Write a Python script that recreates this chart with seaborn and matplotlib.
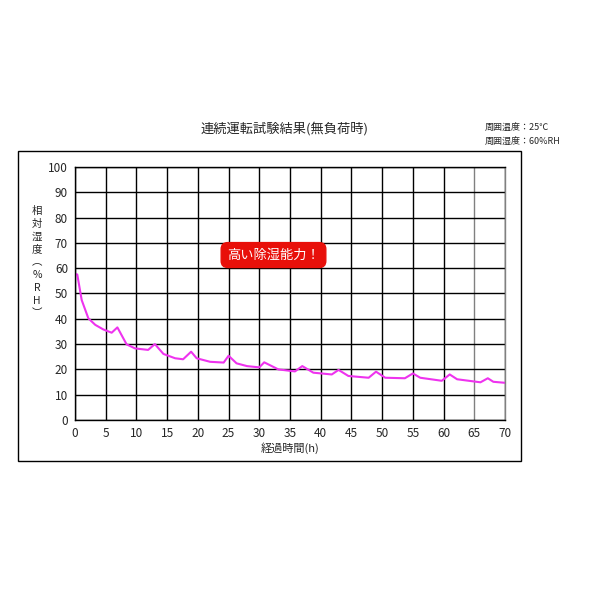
import pandas as pd
import matplotlib
matplotlib.use("Agg")
import matplotlib.pyplot as plt
from matplotlib.patches import Rectangle
import seaborn as sns

# Data (hours, %RH)
hours = [0.0, 0.37, 1.09, 2.17, 3.3, 4.6, 5.97, 6.9, 8.4, 9.77, 11.9, 13.0,
         14.4, 16.3, 17.6, 18.9, 19.8, 22.0, 24.2, 25.0, 26.3, 28.0, 30.0,
         30.8, 33.1, 35.8, 37.0, 38.8, 41.8, 42.9, 44.5, 47.8, 49.0, 50.5,
         53.7, 55.0, 56.2, 59.7, 61.0, 62.2, 66.0, 67.2, 68.1, 70.0]
humidity = [57.7, 57.5, 47.4, 40.2, 37.6, 35.8, 34.5, 36.6, 29.9, 28.3, 27.7,
            30.0, 26.1, 24.4, 24.0, 27.0, 24.4, 23.0, 22.7, 25.4, 22.4, 21.3,
            20.8, 22.8, 20.0, 19.2, 21.3, 18.7, 18.0, 19.8, 17.4, 16.7, 19.1,
            16.7, 16.5, 18.4, 16.7, 15.5, 18.0, 16.1, 14.9, 16.5, 15.1, 14.7]

x_ticks = list(range(0, 71, 5))
y_ticks = list(range(0, 101, 10))

df = pd.DataFrame({"hours": hours, "humidity": humidity})

sns.set_style("white")
plt.rcParams["font.family"] = ["Noto Sans CJK JP", "DejaVu Sans"]

fig = plt.figure(figsize=(6, 6), dpi=100)
ax = fig.add_axes([0.125, 0.3, 0.7167, 0.4217])

# outer frame around the chart
fig.patches.append(Rectangle((0.03, 0.2317), 0.838, 0.5167, transform=fig.transFigure,
                             fill=False, edgecolor="black", linewidth=1))

sns.lineplot(data=df, x="hours", y="humidity", color="#EE33EE", linewidth=1.5, ax=ax)

ax.set_xlim(0, 70)
ax.set_ylim(0, 100)
ax.set_xticks(x_ticks)
ax.set_yticks(y_ticks)
ax.tick_params(length=0, labelsize=8.5, pad=5)
ax.grid(True, color="black", linewidth=1)
for tick, line in zip(ax.get_xticks(), ax.get_xgridlines()):
    if tick == 65:
        line.set_color("gray")
ax.set_axisbelow(True)
for name, spine in ax.spines.items():
    spine.set_visible(True)
    spine.set_color("gray" if name == "right" else "black")
    spine.set_linewidth(1)

ax.set_xlabel("経過時間(h)", fontsize=8, labelpad=2)
ax.set_ylabel("")
fig.text(0.062, 0.563, "相\n対\n湿\n度\n︵\n%\nR\nH\n︶", fontsize=7.5,
         ha="center", va="center", linespacing=1.35)

fig.text(0.475, 0.785, "連続運転試験結果(無負荷時)", fontsize=9.5, ha="center", va="center")
fig.text(0.808, 0.788, "周囲温度：25℃", fontsize=6.5, ha="left", va="center")
fig.text(0.808, 0.765, "周囲湿度：60%RH", fontsize=6.5, ha="left", va="center")

ax.text(0.4616, 0.652, "高い除湿能力！", transform=ax.transAxes, fontsize=9.5,
        color="white", ha="center", va="center",
        bbox=dict(boxstyle="round,pad=0.45,rounding_size=0.5", facecolor="#E8100A",
                  edgecolor="#E8100A"))

fig.savefig("out.png", dpi=100)
